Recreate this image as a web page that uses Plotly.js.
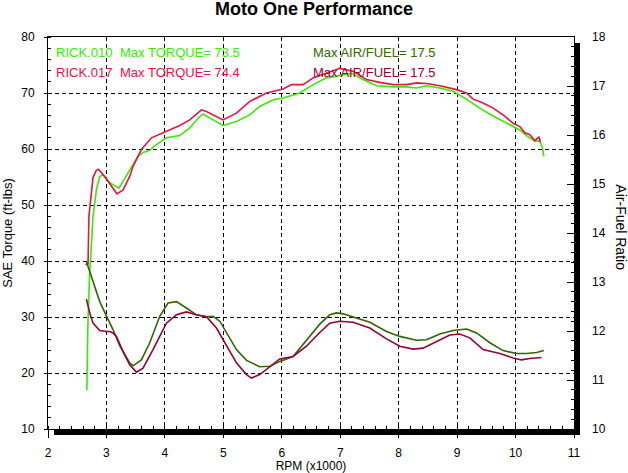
<!DOCTYPE html>
<html>
<head>
<meta charset="utf-8">
<script src="https://cdn.plot.ly/plotly-3.0.1.min.js"></script>
<style>html,body{margin:0;padding:0;background:#fff;}#chart{width:628px;height:473px;}</style>
</head>
<body>
<div id="chart"></div>
<script>
// ---- data ----
const runNames = ["RICK.010", "RICK.017"];
const maxTorque = ["73.5", "74.4"];
const maxAirFuel = ["17.5", "17.5"];

const rpmTorque010 = [2.665, 2.68, 2.71, 2.77, 2.828, 2.885, 2.94, 3.055, 3.215, 3.398, 3.54, 3.626, 3.74, 3.855, 4.026, 4.254, 4.425, 4.567, 4.653, 4.824, 4.995, 5.224, 5.452, 5.623, 5.851, 6.022, 6.308, 6.535, 6.765, 6.992, 7.193, 7.39, 7.62, 7.904, 8.134, 8.305, 8.476, 8.704, 8.931, 9.16, 9.388, 9.616, 9.845, 10.073, 10.188, 10.33, 10.415, 10.461, 10.484];
const torque010 = [16.9, 27.5, 37.3, 47.9, 52.7, 55.1, 55.4, 54.0, 53.0, 56.3, 58.7, 59.4, 59.75, 60.8, 62.0, 62.4, 63.75, 65.5, 66.25, 65.2, 64.2, 64.9, 66.1, 67.6, 68.8, 69.1, 70.0, 71.5, 72.7, 73.1, 73.5, 72.4, 71.3, 71.1, 71.1, 70.9, 71.3, 70.9, 70.3, 68.9, 67.3, 65.9, 64.6, 63.4, 62.4, 61.4, 61.4, 60.2, 58.7];

const rpmTorque017 = [2.64, 2.685, 2.70, 2.743, 2.77, 2.828, 2.863, 2.97, 3.085, 3.18, 3.284, 3.398, 3.455, 3.598, 3.77, 3.997, 4.254, 4.425, 4.625, 4.711, 4.995, 5.224, 5.452, 5.738, 6.022, 6.166, 6.364, 6.535, 6.765, 6.992, 7.22, 7.45, 7.677, 7.904, 8.134, 8.305, 8.476, 8.704, 8.99, 9.16, 9.274, 9.445, 9.616, 9.787, 9.958, 10.073, 10.158, 10.244, 10.33, 10.398, 10.427];
const torque017 = [39.35, 39.5, 48.0, 52.7, 54.9, 56.2, 56.4, 55.1, 53.3, 52.0, 52.7, 55.1, 56.9, 59.9, 62.0, 63.1, 64.2, 65.2, 67.0, 66.7, 65.2, 66.4, 68.5, 70.0, 70.7, 71.5, 71.5, 72.7, 73.6, 74.4, 73.9, 72.4, 71.9, 71.5, 71.5, 71.8, 71.7, 71.3, 70.6, 70.0, 68.9, 68.2, 67.3, 66.1, 64.6, 64.0, 62.9, 62.55, 61.5, 62.1, 61.2];

const rpmAfr010 = [2.657, 2.743, 2.799, 2.885, 2.999, 3.112, 3.227, 3.342, 3.398, 3.455, 3.598, 3.741, 3.912, 4.054, 4.197, 4.369, 4.540, 4.711, 4.824, 4.939, 5.053, 5.224, 5.396, 5.623, 5.795, 5.966, 6.193, 6.422, 6.650, 6.821, 6.936, 7.049, 7.220, 7.506, 7.792, 8.019, 8.305, 8.476, 8.704, 8.931, 9.161, 9.332, 9.560, 9.787, 10.016, 10.188, 10.359, 10.484];
const afr010 = [13.42, 13.11, 12.91, 12.60, 12.31, 12.03, 11.70, 11.45, 11.35, 11.29, 11.41, 11.76, 12.30, 12.57, 12.60, 12.47, 12.33, 12.29, 12.30, 12.20, 11.96, 11.62, 11.40, 11.27, 11.28, 11.38, 11.48, 11.82, 12.14, 12.33, 12.37, 12.35, 12.29, 12.18, 11.99, 11.89, 11.81, 11.82, 11.94, 12.01, 12.04, 11.96, 11.76, 11.60, 11.54, 11.54, 11.56, 11.60];

const rpmAfr017 = [2.657, 2.714, 2.770, 2.856, 2.885, 2.999, 3.056, 3.112, 3.171, 3.284, 3.398, 3.513, 3.626, 3.797, 4.026, 4.197, 4.369, 4.540, 4.711, 4.882, 5.053, 5.224, 5.396, 5.481, 5.623, 5.795, 5.966, 6.193, 6.422, 6.650, 6.821, 6.992, 7.220, 7.506, 7.792, 8.019, 8.247, 8.418, 8.647, 8.875, 9.046, 9.217, 9.445, 9.731, 9.958, 10.102, 10.244, 10.444];
const afr017 = [12.65, 12.37, 12.16, 12.03, 12.01, 11.99, 11.99, 11.96, 11.89, 11.58, 11.31, 11.16, 11.24, 11.62, 12.16, 12.33, 12.39, 12.33, 12.29, 12.06, 11.69, 11.35, 11.11, 11.04, 11.11, 11.28, 11.43, 11.48, 11.69, 11.97, 12.16, 12.20, 12.18, 12.06, 11.84, 11.69, 11.63, 11.65, 11.79, 11.92, 11.94, 11.86, 11.62, 11.54, 11.45, 11.41, 11.44, 11.46];

// ---- styling ----
const FONT = "Liberation Sans, Arial, sans-serif";
const cTorque = ["#33ee00", "#ee1144"];
const cAfr = ["#336600", "#990033"];

const traces = [
  {x: rpmTorque010, y: torque010, mode: "lines", line: {color: cTorque[0], width: 1.6}, yaxis: "y"},
  {x: rpmTorque017, y: torque017, mode: "lines", line: {color: cTorque[1], width: 1.6}, yaxis: "y"},
  {x: rpmAfr010, y: afr010, mode: "lines", line: {color: cAfr[0], width: 1.6}, yaxis: "y2"},
  {x: rpmAfr017, y: afr017, mode: "lines", line: {color: cAfr[1], width: 1.6}, yaxis: "y2"}
];

const pw = 526, ph = 392, sh = 6;
const ann = [];
const rowsY = [0.9592, 0.9082];
for (let i = 0; i < 2; i++) {
  ann.push({xref: "paper", yref: "paper", x: 0.0108, y: rowsY[i], xanchor: "left", yanchor: "middle",
    text: runNames[i], showarrow: false, font: {family: FONT, size: 13, color: cTorque[i]}});
  ann.push({xref: "paper", yref: "paper", x: 0.1331, y: rowsY[i], xanchor: "left", yanchor: "middle",
    text: "Max TORQUE= " + maxTorque[i], showarrow: false, font: {family: FONT, size: 13, color: cTorque[i]}});
  ann.push({xref: "paper", yref: "paper", x: 0.5007, y: rowsY[i], xanchor: "left", yanchor: "middle",
    text: "Max AIR/FUEL= " + maxAirFuel[i], showarrow: false, font: {family: FONT, size: 13, color: cAfr[i]}});
}
ann.push({xref: "paper", yref: "paper", x: 1.09, y: 0.5135, xanchor: "center", yanchor: "middle",
  text: "Air-Fuel Ratio", textangle: 90, showarrow: false, font: {family: FONT, size: 14, color: "#000"}});

const layout = {
  width: 628, height: 473,
  margin: {l: 48, r: 54, t: 37, b: 44, pad: 0},
  paper_bgcolor: "#fff", plot_bgcolor: "#fff",
  showlegend: false,
  font: {family: FONT, size: 12, color: "#000"},
  title: {text: "<b>Moto One Performance</b>", xref: "container", x: 0.5, yref: "container", y: 0.981,
    xanchor: "center", yanchor: "middle", font: {family: FONT, size: 18, color: "#000"}},
  xaxis: {
    range: [2, 11], dtick: 1, tick0: 2,
    showline: true, linecolor: "#000", linewidth: 1, mirror: true,
    ticks: "outside", ticklen: 8, tickcolor: "#000", ticklabelstandoff: 5,
    minor: {dtick: 0.2, ticks: "inside", ticklen: 3, tickcolor: "#000", showgrid: false},
    showgrid: true, gridcolor: "#000", gridwidth: 1, griddash: "4px,3px",
    zeroline: false,
    tickfont: {family: FONT, size: 12, color: "#000"},
    title: {text: "RPM (x1000)", standoff: 2, font: {family: FONT, size: 12, color: "#000"}}
  },
  yaxis: {
    range: [10, 80], dtick: 10, tick0: 10,
    showline: true, linecolor: "#000", linewidth: 1, mirror: true,
    ticks: "outside", ticklen: 3, tickcolor: "#000", ticklabelstandoff: 7,
    minor: {dtick: 2, ticks: "inside", ticklen: 3, tickcolor: "#000", showgrid: false},
    showgrid: true, gridcolor: "#000", gridwidth: 1, griddash: "4px,3px",
    zeroline: false,
    tickfont: {family: FONT, size: 12, color: "#000"},
    title: {text: "SAE Torque (ft-lbs)", standoff: 6, font: {family: FONT, size: 13, color: "#000"}}
  },
  yaxis2: {
    overlaying: "y", side: "right",
    range: [10, 18], dtick: 1, tick0: 10,
    showline: false, showgrid: false, zeroline: false,
    ticks: "inside", ticklen: 7, tickcolor: "#000", ticklabelstandoff: 17,
    minor: {dtick: 0.2, ticks: "inside", ticklen: 3, tickcolor: "#000", showgrid: false},
    tickfont: {family: FONT, size: 12, color: "#000"}
  },
  shapes: [
    {type: "rect", xref: "paper", yref: "paper", x0: 1, x1: 1 + sh / pw, y0: -sh / ph, y1: 1 - sh / ph,
      fillcolor: "#000", line: {width: 0}, layer: "above"},
    {type: "rect", xref: "paper", yref: "paper", x0: sh / pw, x1: 1 + sh / pw, y0: -sh / ph, y1: 0,
      fillcolor: "#000", line: {width: 0}, layer: "above"}
  ],
  annotations: ann
};

Plotly.newPlot("chart", traces, layout, {displayModeBar: false, staticPlot: true});
</script>
</body>
</html>
